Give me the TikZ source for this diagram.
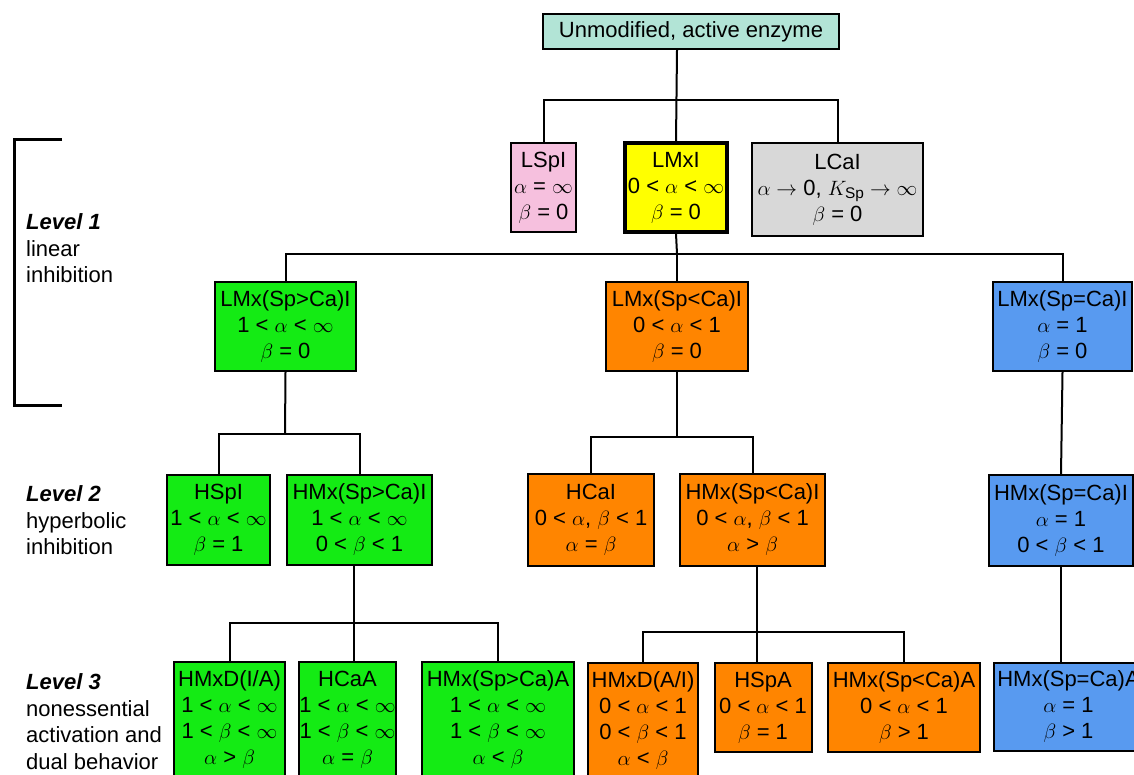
\documentclass[tikz,border=0pt]{standalone}
\usepackage{amsmath}
\usepackage{fontspec}
\setmainfont{Liberation Sans}

\definecolor{topcol}{RGB}{178,228,214}
\definecolor{pinkcol}{RGB}{246,192,222}
\definecolor{yellowcol}{RGB}{255,255,0}
\definecolor{graycol}{RGB}{216,216,216}
\definecolor{greencol}{RGB}{20,235,20}
\definecolor{orangecol}{RGB}{255,133,0}
\definecolor{bluecol}{RGB}{88,154,240}

\begin{document}
\begin{tikzpicture}[x=1pt,y=-1pt,
  box/.style={draw, line width=2pt, align=center, inner sep=0pt,
    font=\fontsize{22}{26}\selectfont},
  wire/.style={line width=2pt},
  levtext/.style={align=left, anchor=west, inner sep=0pt,
    font=\fontsize{22}{26.5}\selectfont}]

 \clip (0,0) rectangle (1134,774);

 % root
 \node[box, fill=topcol, minimum width=296pt, minimum height=35pt] (top) at (691,31.5) {Unmodified, active enzyme};

 % level 1
 \node[box, fill=pinkcol, minimum width=65pt, minimum height=89pt] (lspi) at (543.5,187.5) {LSpI\\$\alpha$ = $\infty$\\$\beta$ = 0};
 \node[box, fill=yellowcol, line width=3.4pt, minimum width=102pt, minimum height=89pt] (lmxi) at (676,187.5) {LMxI\\0 < $\alpha$ < $\infty$\\$\beta$ = 0};
 \node[box, fill=graycol, minimum width=171pt, minimum height=93pt] (lcai) at (837.5,189.5) {LCaI\\$\alpha\rightarrow$ 0, $K_{\text{Sp}}\rightarrow\infty$\\$\beta$ = 0};

 \node[box, fill=greencol, minimum width=141pt, minimum height=89pt] (lmxgt) at (285.5,326.5) {LMx(Sp>Ca)I\\1 < $\alpha$ < $\infty$\\$\beta$ = 0};
 \node[box, fill=orangecol, minimum width=142pt, minimum height=89pt] (lmxlt) at (677,326.5) {LMx(Sp<Ca)I\\0 < $\alpha$ < 1\\$\beta$ = 0};
 \node[box, fill=bluecol, minimum width=139pt, minimum height=89pt] (lmxeq) at (1062.5,326.5) {LMx(Sp=Ca)I\\$\alpha$ = 1\\$\beta$ = 0};

 % level 2
 \node[box, fill=greencol, minimum width=103pt, minimum height=90pt] (hspi) at (218.5,520) {HSpI\\1 < $\alpha$ < $\infty$\\$\beta$ = 1};
 \node[box, fill=greencol, minimum width=145pt, minimum height=90pt] (hmxgt) at (359.5,520) {HMx(Sp>Ca)I\\1 < $\alpha$ < $\infty$\\0 < $\beta$ < 1};
 \node[box, fill=orangecol, minimum width=126pt, minimum height=92pt] (hcai) at (591,520) {HCaI\\0 < $\alpha$, $\beta$ < 1\\$\alpha$ = $\beta$};
 \node[box, fill=orangecol, minimum width=145pt, minimum height=92pt] (hmxlt) at (752.5,520) {HMx(Sp<Ca)I\\0 < $\alpha$, $\beta$ < 1\\$\alpha$ > $\beta$};
 \node[box, fill=bluecol, minimum width=144pt, minimum height=91pt] (hmxeq) at (1061,520.5) {HMx(Sp=Ca)I\\$\alpha$ = 1\\0 < $\beta$ < 1};

 % level 3
 \node[box, fill=greencol, minimum width=111pt, minimum height=116pt] (hmxdia) at (229.5,720) {HMxD(I/A)\\1 < $\alpha$ < $\infty$\\1 < $\beta$ < $\infty$\\$\alpha$ > $\beta$};
 \node[box, fill=greencol, minimum width=91pt, minimum height=116pt] (hcaa) at (347.5,720) {HCaA\\1 < $\alpha$ < $\infty$\\1 < $\beta$ < $\infty$\\$\alpha$ = $\beta$};
 \node[box, fill=greencol, minimum width=152pt, minimum height=116pt] (hmxgta) at (498,720) {HMx(Sp>Ca)A\\1 < $\alpha$ < $\infty$\\1 < $\beta$ < $\infty$\\$\alpha$ < $\beta$};
 \node[box, fill=orangecol, minimum width=110pt, minimum height=116pt] (hmxdai) at (643,721) {HMxD(A/I)\\0 < $\alpha$ < 1\\0 < $\beta$ < 1\\$\alpha$ < $\beta$};
 \node[box, fill=orangecol, minimum width=97pt, minimum height=89pt] (hspa) at (763,707.5) {HSpA\\0 < $\alpha$ < 1\\$\beta$ = 1};
 \node[box, fill=orangecol, minimum width=152pt, minimum height=89pt] (hmxlta) at (904,707.5) {HMx(Sp<Ca)A\\0 < $\alpha$ < 1\\$\beta$ > 1};
 \node[box, fill=bluecol, minimum width=149pt, minimum height=88pt] (hmxeqa) at (1068.5,707) {HMx(Sp=Ca)A\\$\alpha$ = 1\\$\beta$ > 1};

 % junctions
 \coordinate (j1) at (677,100);
 \coordinate (j2) at (677,254);
 \coordinate (j3) at (285,434);
 \coordinate (j4) at (677,437);
 \coordinate (j5) at (354,623);
 \coordinate (j6) at (757,632);

 \draw[wire] (top.south -| j1) -- (lmxi.north);
 \draw[wire] (lspi.north) |- (j1) -| (lcai.north);
 \draw[wire] (lmxi.south) -- (j2);
 \draw[wire] (lmxgt.north) |- (j2) -| (lmxeq.north);
 \draw[wire] (j2) -- (lmxlt.north);

 \draw[wire] (lmxgt.south) -- (j3);
 \draw[wire] (hspi.north) |- (j3) -| (hmxgt.north);
 \draw[wire] (lmxlt.south) -- (j4);
 \draw[wire] (hcai.north) |- (j4) -| (hmxlt.north);
 \draw[wire] (lmxeq.south) -- (hmxeq.north);

 \draw[wire] (hmxgt.south -| j5) -- (j5);
 \draw[wire] (hmxdia.north) |- (j5) -| (hmxgta.north);
 \draw[wire] (j5) -- (hcaa.north -| j5);
 \draw[wire] (hmxlt.south -| j6) -- (j6);
 \draw[wire] (hmxdai.north) |- (j6) -| (hmxlta.north);
 \draw[wire] (j6) -- (hspa.north -| j6);
 \draw[wire] (hmxeq.south) -- (hmxeq.south |- hmxeqa.north);

 % level labels
 \draw[line width=3pt] (62,139) -| (14,405) -- (62,405);
 \node[levtext] (lev1) at (26,248.5) {\textbf{\textit{Level 1}}\\linear\\inhibition};
 \node[levtext] (lev2) at (26,520.5) {\textbf{\textit{Level 2}}\\hyperbolic\\inhibition};
 \node[levtext] (lev3) at (26,721.5) {\textbf{\textit{Level 3}}\\nonessential\\activation and\\dual behavior};

\end{tikzpicture}
\end{document}
